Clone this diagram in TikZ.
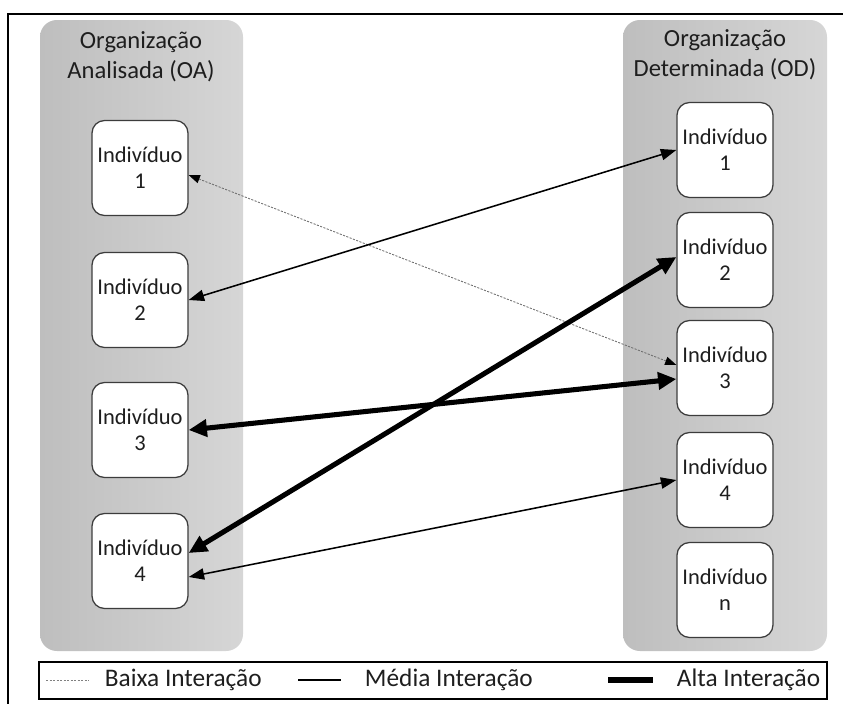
\documentclass[tikz,border=0pt]{standalone}
\usepackage{fontspec}
\setmainfont{Carlito}
\usetikzlibrary{arrows.meta, calc, positioning}
\definecolor{orgdark}{RGB}{190,190,190}
\definecolor{orglight}{RGB}{214,214,214}
\definecolor{boxline}{RGB}{60,60,60}
\definecolor{textgray}{RGB}{30,30,30}

\begin{document}
\begin{tikzpicture}[x=0.025cm, y=-0.025cm,
    individuo/.style={draw=boxline, fill=white, line width=0.9pt, rounded corners=9pt,
        minimum width=2.4cm, minimum height=2.375cm, align=center,
        text=textgray, font=\fontsize{16}{18.5}\selectfont},
    titulo/.style={align=center, text=textgray, font=\fontsize{17.5}{21}\selectfont},
    legenda/.style={anchor=west, text=textgray, font=\fontsize{18}{21}\selectfont},
    baixa/.style={{Triangle[length=8pt,width=6pt,color=black]}-{Triangle[length=8pt,width=6pt,color=black]},
        gray!85!black, dash pattern=on 1.5pt off 1pt, line width=0.6pt},
    media/.style={{Triangle[length=11pt,width=8pt]}-{Triangle[length=11pt,width=8pt]}, line width=1.1pt},
    alta/.style={{Triangle[length=13pt,width=12pt]}-{Triangle[length=13pt,width=12pt]}, line width=3.6pt}]
    \useasboundingbox (0,0) rectangle (843,704);
    \draw[line width=1pt] (8,704) -- (8,14) -- (843,14);

    % the two organizations
    \shade[left color=orgdark, right color=orglight, rounded corners=12pt] (40,20) rectangle (243,651);
    \shade[left color=orgdark, right color=orglight, rounded corners=12pt] (623,20) rectangle (827,651);
    \node[titulo] (oa) at (141,57) {Organização\\Analisada (OA)};
    \node[titulo] (od) at (725,55) {Organização\\Determinada (OD)};

    % individuals
    \foreach \i/\y in {1/168, 2/300, 3/430, 4/561}
        \node[individuo] (oa\i) at (140,\y) {Indivíduo\\\i};
    \foreach \i/\y in {1/150, 2/260, 3/368, 4/480, n/590}
        \node[individuo] (od\i) at (725,\y) {Indivíduo\\\i};

    % interactions
    \draw[baixa] ($(oa1.east)+(0,7)$) -- ($(od3.west)+(0,-3)$);
    \draw[media] (oa2.east) -- (od1.west);
    \draw[alta] (oa3.east) -- ($(od3.west)+(0,11)$);
    \draw[alta] ($(oa4.east)+(0,-8)$) -- ($(od2.west)+(0,-3)$);
    \draw[media] ($(oa4.east)+(0,16)$) -- (od4.west);

    % legend
    \draw[line width=1pt] (39,662) rectangle (827,699);
    \draw[gray, dash pattern=on 1.5pt off 1pt, line width=0.5pt] (46,680) -- (89,680);
    \node[legenda] (lbaixa) at (100,680) {Baixa Interação};
    \draw[line width=1.1pt] (298,680) -- (341,680);
    \node[legenda] (lmedia) at (360,680) {Média Interação};
    \draw[line width=3.6pt] (608,680) -- (653,680);
    \node[legenda] (lalta) at (672,680) {Alta Interação};
\end{tikzpicture}
\end{document}
